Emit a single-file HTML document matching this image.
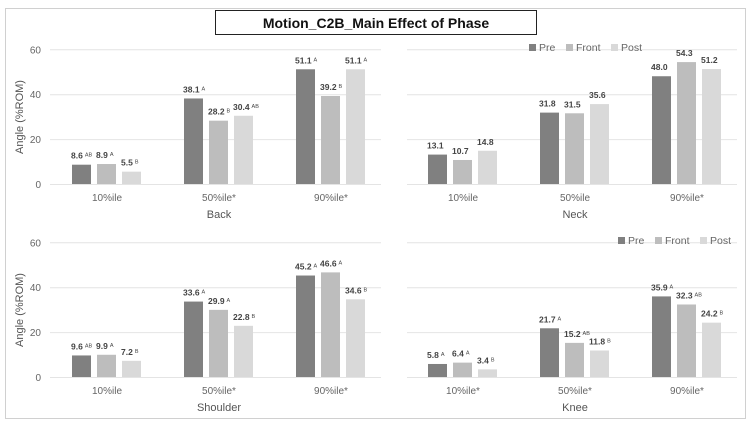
<!DOCTYPE html>
<html><head><meta charset="utf-8">
<style>
html,body{margin:0;padding:0;background:#fff;}
svg{display:block;font-family:"Liberation Sans","Noto Sans CJK KR",sans-serif;}
</style></head>
<body>
<svg id="chart" width="751" height="425" viewBox="0 0 751 425">
<rect x="5.5" y="8.5" width="740" height="410" fill="#fff" stroke="#d0d0d0"/>
<rect x="215.5" y="10.5" width="321" height="24" fill="#fff" stroke="#222"/>
<text x="376" y="28" text-anchor="middle" font-size="14" font-weight="bold" fill="#111">Motion_C2B_Main Effect of Phase</text>
<g id="panels"></g>
</svg>
<script>
const categoriesBack = ["10%ile","50%ile*","90%ile*"];
const categoriesNeck = ["10%ile","50%ile","90%ile*"];
const categoriesShoulder = ["10%ile","50%ile*","90%ile*"];
const categoriesKnee = ["10%ile*","50%ile*","90%ile*"];
const seriesNames = ["Pre","Front","Post"];
const backPre = [8.6,38.1,51.1], backFront = [8.9,28.2,39.2], backPost = [5.5,30.4,51.1];
const backSup = [["AB","A","B"],["A","B","AB"],["A","B","A"]];
const neckPre = [13.1,31.8,48.0], neckFront = [10.7,31.5,54.3], neckPost = [14.8,35.6,51.2];
const neckSup = [["","",""],["","",""],["","",""]];
const shoulderPre = [9.6,33.6,45.2], shoulderFront = [9.9,29.9,46.6], shoulderPost = [7.2,22.8,34.6];
const shoulderSup = [["AB","A","B"],["A","A","B"],["A","A","B"]];
const kneePre = [5.8,21.7,35.9], kneeFront = [6.4,15.2,32.3], kneePost = [3.4,11.8,24.2];
const kneeSup = [["A","A","B"],["A","AB","B"],["A","AB","B"]];
const yTicks = [0,20,40,60];

const NS="http://www.w3.org/2000/svg";
const root=document.getElementById('panels');
const colors=["#808080","#bdbdbd","#d9d9d9"];
function mk(tag,attrs,parent){const e=document.createElementNS(NS,tag);for(const k in attrs)e.setAttribute(k,attrs[k]);parent.appendChild(e);return e;}

function panel(name,cats,series,sups,x0,y0,showAxis,legendPos){
  const g=mk('g',{},root);
  
  
  const yScale=v=>y0-v*2.245;
  const xCenter=i=>x0+56+i*112;
  yTicks.forEach(t=>{
    const gl=mk('line',{x1:showAxis?x0-1:x0,x2:x0+330,y1:yScale(t)+0.5,y2:yScale(t)+0.5,stroke:'#e4e4e4','stroke-width':1},g);
    
    
    if(showAxis){
      const tl=mk('text',{x:x0-10,y:yScale(t)+4,'text-anchor':'end','font-size':10,fill:'#666'},g);
      tl.textContent=t;
      
      
    }
  });
  if(showAxis){
    const yt=mk('text',{transform:`translate(23,${y0-67}) rotate(-90)`,'text-anchor':'middle','font-size':11,fill:'#555'},g);
    yt.textContent='Angle (%ROM)';
    
    
  }
  cats.forEach((c,i)=>{
    const cl=mk('text',{x:xCenter(i),y:y0+17,'text-anchor':'middle','font-size':10,fill:'#666'},g);
    cl.textContent=c;
    
    
    series.forEach((s,j)=>{
      const v=s[i];
      const bx=xCenter(i)-35+j*25;
      const r=mk('rect',{x:bx,y:yScale(v),width:19,height:y0-yScale(v),fill:colors[j]},g);
      
      
      const lb=mk('text',{x:bx-1,y:yScale(v)-6,'font-size':8.5,'font-weight':'bold',fill:'#444'},g);
      lb.textContent=v.toFixed(1);
      const sp=sups[i][j];
      if(sp){const ts=mk('tspan',{'font-size':5.5,dx:2,dy:-2,'font-weight':'normal'},lb);ts.textContent=sp;}
      
      
    });
  });
  const at=mk('text',{x:x0+168,y:y0+34,'text-anchor':'middle','font-size':11,fill:'#555'},g);
  at.textContent=name;
  
  
  if(legendPos){
    let lx=legendPos[0];
    const widths=[37,45,40];
    seriesNames.forEach((n,j)=>{
      const lg=mk('g',{},g);
      
      
      mk('rect',{x:lx,y:legendPos[1]-7,width:7,height:7,fill:colors[j]},lg);
      const t=mk('text',{x:lx+10,y:legendPos[1],'font-size':10.5,fill:'#666'},lg);
      t.textContent=n;
      lx+=widths[j];
    });
  }
}
panel('Back',categoriesBack,[backPre,backFront,backPost],backSup,51,184,true,null);
panel('Neck',categoriesNeck,[neckPre,neckFront,neckPost],neckSup,407,184,false,[529,51]);
panel('Shoulder',categoriesShoulder,[shoulderPre,shoulderFront,shoulderPost],shoulderSup,51,377,true,null);
panel('Knee',categoriesKnee,[kneePre,kneeFront,kneePost],kneeSup,407,377,false,[618,244]);
</script>
</body></html>
